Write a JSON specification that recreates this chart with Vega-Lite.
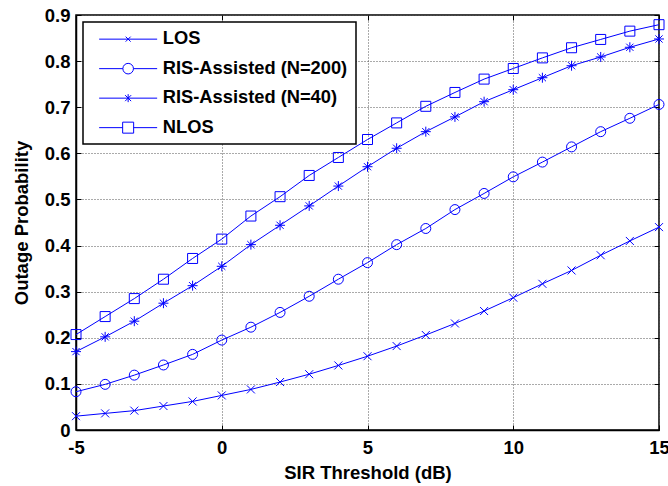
{
  "$schema": "https://vega.github.io/schema/vega-lite/v6.json",
  "width": 583,
  "height": 415,
  "autosize": "none",
  "padding": {"left": 76, "top": 15, "right": 9, "bottom": 56},
  "background": "white",
  "config": {
    "view": {"stroke": "black", "strokeWidth": 1.5},
    "axis": {
      "labelFont": "Liberation Sans", "labelFontWeight": "bold", "labelFontSize": 18.5, "labelColor": "black",
      "titleFont": "Liberation Sans", "titleFontWeight": "bold", "titleFontSize": 18.5, "titleColor": "black",
      "domainColor": "black", "domainWidth": 1.5, "tickColor": "black", "tickSize": -5, "tickWidth": 1,
      "gridColor": "#555555", "gridDash": [1, 2], "gridWidth": 1, "gridOpacity": 1
    },
    "legend": {
      "labelFont": "Liberation Sans", "labelFontWeight": "bold", "labelFontSize": 18.3, "labelColor": "black", "labelLimit": 400
    }
  },
  "data": {"values": [
    {"x": -5, "series": "LOS", "p": 0.030}, {"x": -4, "series": "LOS", "p": 0.036}, {"x": -3, "series": "LOS", "p": 0.042},
    {"x": -2, "series": "LOS", "p": 0.052}, {"x": -1, "series": "LOS", "p": 0.062}, {"x": 0, "series": "LOS", "p": 0.075},
    {"x": 1, "series": "LOS", "p": 0.088}, {"x": 2, "series": "LOS", "p": 0.104}, {"x": 3, "series": "LOS", "p": 0.121},
    {"x": 4, "series": "LOS", "p": 0.140}, {"x": 5, "series": "LOS", "p": 0.160}, {"x": 6, "series": "LOS", "p": 0.182},
    {"x": 7, "series": "LOS", "p": 0.206}, {"x": 8, "series": "LOS", "p": 0.231}, {"x": 9, "series": "LOS", "p": 0.258},
    {"x": 10, "series": "LOS", "p": 0.287}, {"x": 11, "series": "LOS", "p": 0.317}, {"x": 12, "series": "LOS", "p": 0.346},
    {"x": 13, "series": "LOS", "p": 0.379}, {"x": 14, "series": "LOS", "p": 0.410}, {"x": 15, "series": "LOS", "p": 0.440},

    {"x": -5, "series": "RIS-Assisted (N=200)", "p": 0.083}, {"x": -4, "series": "RIS-Assisted (N=200)", "p": 0.099},
    {"x": -3, "series": "RIS-Assisted (N=200)", "p": 0.119}, {"x": -2, "series": "RIS-Assisted (N=200)", "p": 0.141},
    {"x": -1, "series": "RIS-Assisted (N=200)", "p": 0.164}, {"x": 0, "series": "RIS-Assisted (N=200)", "p": 0.195},
    {"x": 1, "series": "RIS-Assisted (N=200)", "p": 0.223}, {"x": 2, "series": "RIS-Assisted (N=200)", "p": 0.255},
    {"x": 3, "series": "RIS-Assisted (N=200)", "p": 0.290}, {"x": 4, "series": "RIS-Assisted (N=200)", "p": 0.327},
    {"x": 5, "series": "RIS-Assisted (N=200)", "p": 0.363}, {"x": 6, "series": "RIS-Assisted (N=200)", "p": 0.402},
    {"x": 7, "series": "RIS-Assisted (N=200)", "p": 0.437}, {"x": 8, "series": "RIS-Assisted (N=200)", "p": 0.478},
    {"x": 9, "series": "RIS-Assisted (N=200)", "p": 0.513}, {"x": 10, "series": "RIS-Assisted (N=200)", "p": 0.549},
    {"x": 11, "series": "RIS-Assisted (N=200)", "p": 0.581}, {"x": 12, "series": "RIS-Assisted (N=200)", "p": 0.614},
    {"x": 13, "series": "RIS-Assisted (N=200)", "p": 0.647}, {"x": 14, "series": "RIS-Assisted (N=200)", "p": 0.676},
    {"x": 15, "series": "RIS-Assisted (N=200)", "p": 0.706},

    {"x": -5, "series": "RIS-Assisted (N=40)", "p": 0.170}, {"x": -4, "series": "RIS-Assisted (N=40)", "p": 0.202},
    {"x": -3, "series": "RIS-Assisted (N=40)", "p": 0.236}, {"x": -2, "series": "RIS-Assisted (N=40)", "p": 0.275},
    {"x": -1, "series": "RIS-Assisted (N=40)", "p": 0.313}, {"x": 0, "series": "RIS-Assisted (N=40)", "p": 0.355},
    {"x": 1, "series": "RIS-Assisted (N=40)", "p": 0.402}, {"x": 2, "series": "RIS-Assisted (N=40)", "p": 0.444},
    {"x": 3, "series": "RIS-Assisted (N=40)", "p": 0.486}, {"x": 4, "series": "RIS-Assisted (N=40)", "p": 0.529},
    {"x": 5, "series": "RIS-Assisted (N=40)", "p": 0.571}, {"x": 6, "series": "RIS-Assisted (N=40)", "p": 0.611},
    {"x": 7, "series": "RIS-Assisted (N=40)", "p": 0.647}, {"x": 8, "series": "RIS-Assisted (N=40)", "p": 0.679},
    {"x": 9, "series": "RIS-Assisted (N=40)", "p": 0.712}, {"x": 10, "series": "RIS-Assisted (N=40)", "p": 0.738},
    {"x": 11, "series": "RIS-Assisted (N=40)", "p": 0.764}, {"x": 12, "series": "RIS-Assisted (N=40)", "p": 0.790},
    {"x": 13, "series": "RIS-Assisted (N=40)", "p": 0.809}, {"x": 14, "series": "RIS-Assisted (N=40)", "p": 0.830},
    {"x": 15, "series": "RIS-Assisted (N=40)", "p": 0.848},

    {"x": -5, "series": "NLOS", "p": 0.207}, {"x": -4, "series": "NLOS", "p": 0.246}, {"x": -3, "series": "NLOS", "p": 0.285},
    {"x": -2, "series": "NLOS", "p": 0.327}, {"x": -1, "series": "NLOS", "p": 0.372}, {"x": 0, "series": "NLOS", "p": 0.414},
    {"x": 1, "series": "NLOS", "p": 0.464}, {"x": 2, "series": "NLOS", "p": 0.506}, {"x": 3, "series": "NLOS", "p": 0.552},
    {"x": 4, "series": "NLOS", "p": 0.591}, {"x": 5, "series": "NLOS", "p": 0.630}, {"x": 6, "series": "NLOS", "p": 0.666},
    {"x": 7, "series": "NLOS", "p": 0.702}, {"x": 8, "series": "NLOS", "p": 0.732}, {"x": 9, "series": "NLOS", "p": 0.761},
    {"x": 10, "series": "NLOS", "p": 0.784}, {"x": 11, "series": "NLOS", "p": 0.807}, {"x": 12, "series": "NLOS", "p": 0.829},
    {"x": 13, "series": "NLOS", "p": 0.847}, {"x": 14, "series": "NLOS", "p": 0.865}, {"x": 15, "series": "NLOS", "p": 0.879}
  ]},
  "resolve": {"axis": {"x": "independent", "y": "independent"}},
  "layer": [
    {
      "mark": {"type": "line", "strokeWidth": 1},
      "encoding": {
        "x": {"field": "x", "type": "quantitative", "scale": {"domain": [-5, 15], "nice": false, "zero": false},
          "axis": {"orient": "bottom", "values": [-5, 0, 5, 10, 15], "labelExpr": "'' + datum.value", "title": "SIR Threshold (dB)",
            "grid": true, "labelPadding": 28, "labelBaseline": "alphabetic", "labelFlush": false,
            "titleY": 48, "titleBaseline": "alphabetic"}},
        "y": {"field": "p", "type": "quantitative", "scale": {"domain": [0, 0.9], "nice": false},
          "axis": {"orient": "left", "values": [0, 0.1, 0.2, 0.3, 0.4, 0.5, 0.6, 0.7, 0.8, 0.9], "format": ".1~f", "title": "Outage Probability",
            "grid": true, "labelPadding": 11, "labelBaseline": "middle", "labelFlush": false,
            "titleX": -55, "titleY": 207.5, "titleBaseline": "middle", "titleAngle": -90}},
        "color": {"field": "series", "type": "nominal",
          "scale": {"domain": ["LOS", "RIS-Assisted (N=200)", "RIS-Assisted (N=40)", "NLOS"], "range": ["#0000ff", "#0000ff", "#0000ff", "#0000ff"]},
          "legend": {"title": null, "orient": "top-left", "offset": 7, "padding": 8,
            "strokeColor": "black", "fillColor": "white", "symbolSize": 4, "symbolStrokeWidth": 1,
            "symbolOffset": 28, "labelOffset": 25.5, "rowPadding": 10.5,
            "encode": {
              "legend": {"update": {"strokeWidth": {"value": 1.5}}},
              "symbols": {"update": {
              "shape": {"signal": "datum.value === 'LOS' ? 'M-29,0L29,0M-2.5,-2.5L2.5,2.5M-2.5,2.5L2.5,-2.5' : datum.value === 'RIS-Assisted (N=200)' ? 'M-29,0L-5.3,0M5.3,0L29,0M-5.3,0A5.3,5.3 0 1,0 5.3,0A5.3,5.3 0 1,0 -5.3,0Z' : datum.value === 'RIS-Assisted (N=40)' ? 'M-29,0L29,0M0,-4L0,4M-3,-3L3,3M-3,3L3,-3' : 'M-29,0L-5.5,0M5.5,0L29,0M-5.5,-5.5L5.5,-5.5L5.5,5.5L-5.5,5.5Z'"},
              "fill": {"value": "transparent"},
              "stroke": {"value": "#0000ff"},
              "strokeWidth": {"value": 1}
            }}}}}
      }
    },
    {
      "transform": [{"filter": "datum.series === 'LOS'"}],
      "mark": {"type": "point", "filled": false, "strokeWidth": 1, "color": "#0000ff", "size": 4, "opacity": 1, "shape": "M-4,-4L4,4M-4,4L4,-4"},
      "encoding": {
        "x": {"field": "x", "type": "quantitative",
          "axis": {"orient": "top", "values": [-5, 0, 5, 10, 15], "labels": false, "title": null, "grid": false, "domain": false}},
        "y": {"field": "p", "type": "quantitative",
          "axis": {"orient": "right", "values": [0, 0.1, 0.2, 0.3, 0.4, 0.5, 0.6, 0.7, 0.8, 0.9], "labels": false, "title": null, "grid": false, "domain": false}}
      }
    },
    {
      "transform": [{"filter": "datum.series === 'RIS-Assisted (N=200)'"}],
      "mark": {"type": "point", "filled": false, "strokeWidth": 1, "color": "#0000ff", "size": 4, "opacity": 1, "shape": "M-5,0A5,5 0 1,0 5,0A5,5 0 1,0 -5,0Z"},
      "encoding": {
        "x": {"field": "x", "type": "quantitative", "axis": null},
        "y": {"field": "p", "type": "quantitative", "axis": null}
      }
    },
    {
      "transform": [{"filter": "datum.series === 'RIS-Assisted (N=40)'"}],
      "mark": {"type": "point", "filled": false, "strokeWidth": 1, "color": "#0000ff", "size": 4, "opacity": 1, "shape": "M-5,0L5,0M0,-5L0,5M-3.6,-3.6L3.6,3.6M-3.6,3.6L3.6,-3.6"},
      "encoding": {
        "x": {"field": "x", "type": "quantitative", "axis": null},
        "y": {"field": "p", "type": "quantitative", "axis": null}
      }
    },
    {
      "transform": [{"filter": "datum.series === 'NLOS'"}],
      "mark": {"type": "point", "filled": false, "strokeWidth": 1, "color": "#0000ff", "size": 4, "opacity": 1, "shape": "M-5,-5L5,-5L5,5L-5,5Z"},
      "encoding": {
        "x": {"field": "x", "type": "quantitative", "axis": null},
        "y": {"field": "p", "type": "quantitative", "axis": null}
      }
    }
  ]
}
